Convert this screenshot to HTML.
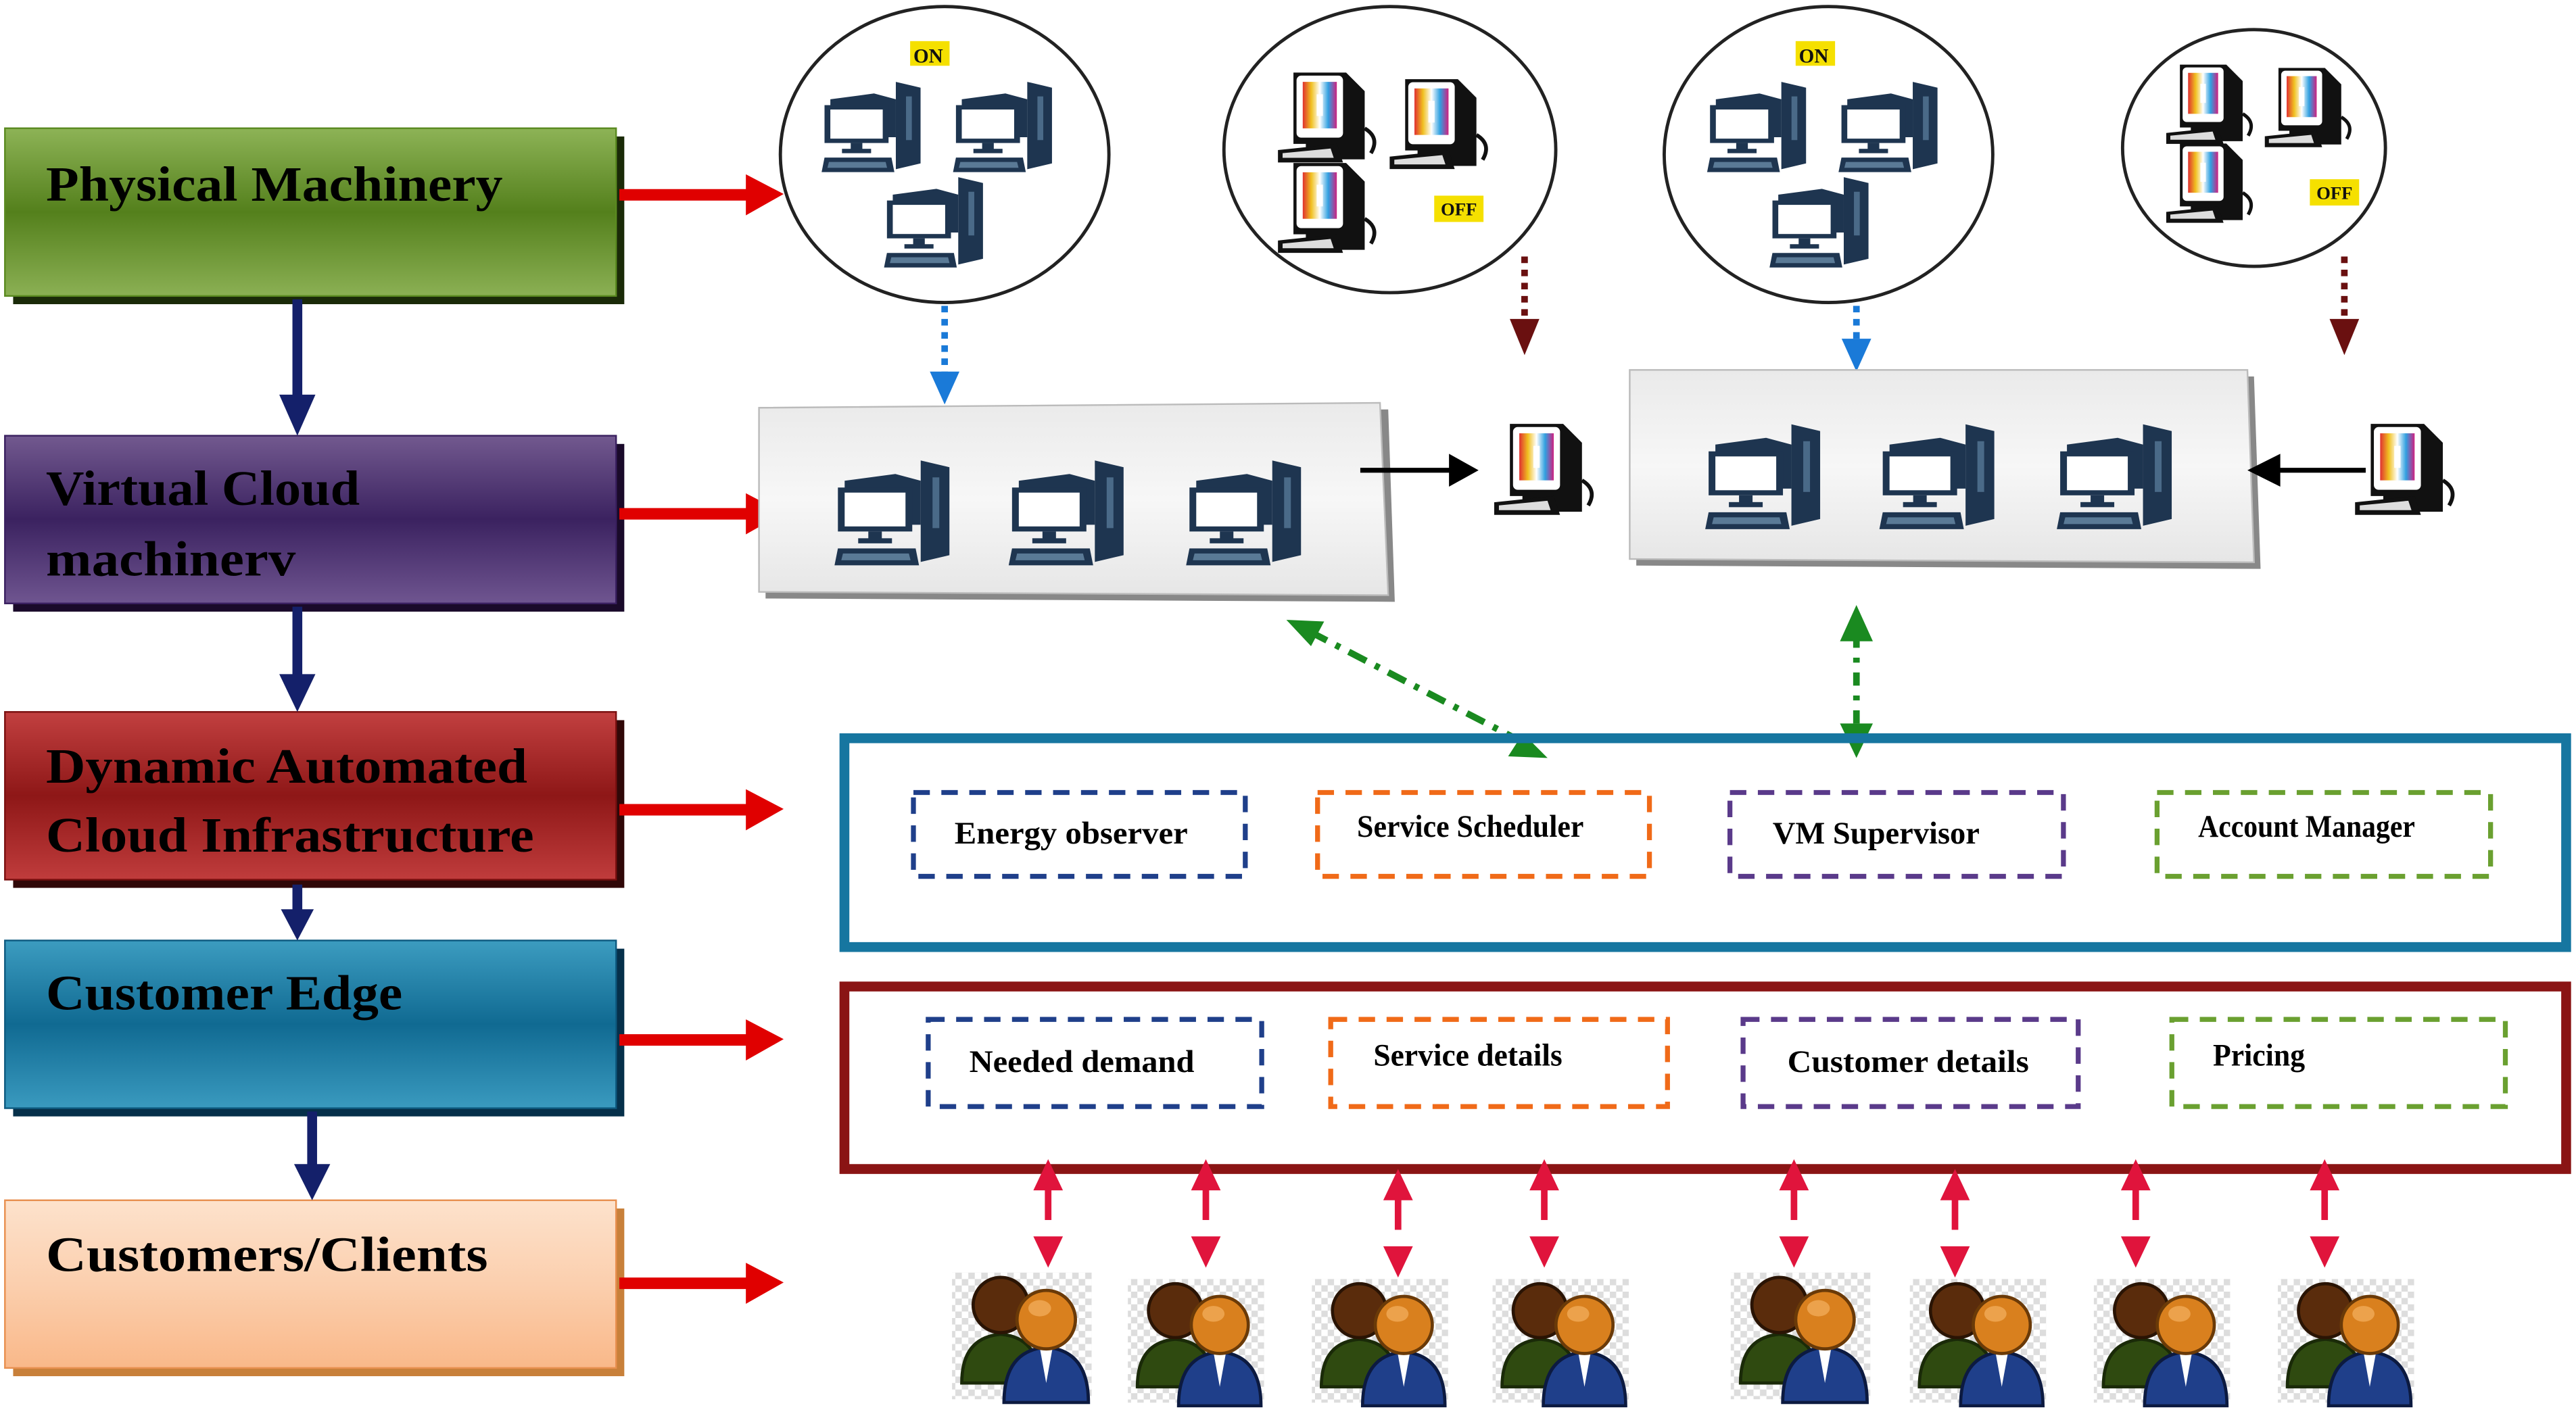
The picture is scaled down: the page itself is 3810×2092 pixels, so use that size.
<!DOCTYPE html>
<html><head><meta charset="utf-8"><style>
html,body{margin:0;padding:0;background:#fff;}
svg{display:block;}
text{font-family:"Liberation Serif",serif;font-weight:bold;}
</style></head><body>
<svg width="3810" height="2092" viewBox="0 0 1568 860" preserveAspectRatio="none" xmlns="http://www.w3.org/2000/svg">
<defs>
<linearGradient id="gG" x1="0" y1="0" x2="0" y2="1"><stop offset="0" stop-color="#8db356"/><stop offset="0.5" stop-color="#54801c"/><stop offset="1" stop-color="#8bb054"/></linearGradient>
<linearGradient id="gP" x1="0" y1="0" x2="0" y2="1"><stop offset="0" stop-color="#72598f"/><stop offset="0.5" stop-color="#3b2260"/><stop offset="1" stop-color="#6f5590"/></linearGradient>
<linearGradient id="gR" x1="0" y1="0" x2="0" y2="1"><stop offset="0" stop-color="#c24040"/><stop offset="0.5" stop-color="#8e1717"/><stop offset="1" stop-color="#c03c3c"/></linearGradient>
<linearGradient id="gB" x1="0" y1="0" x2="0" y2="1"><stop offset="0" stop-color="#3c9cc0"/><stop offset="0.5" stop-color="#106a92"/><stop offset="1" stop-color="#3a9abf"/></linearGradient>
<linearGradient id="gO" x1="0" y1="0" x2="0" y2="1"><stop offset="0" stop-color="#fde2cc"/><stop offset="0.5" stop-color="#fbcfae"/><stop offset="1" stop-color="#f9b889"/></linearGradient>
<linearGradient id="gPan" x1="0" y1="0" x2="0" y2="1"><stop offset="0" stop-color="#eaeaea"/><stop offset="0.5" stop-color="#f7f7f7"/><stop offset="1" stop-color="#e6e6e6"/></linearGradient>
<linearGradient id="scr" x1="0" y1="0" x2="1" y2="0"><stop offset="0" stop-color="#e03030"/><stop offset="0.25" stop-color="#f0c020"/><stop offset="0.5" stop-color="#ffffff"/><stop offset="0.75" stop-color="#30a0e0"/><stop offset="1" stop-color="#d02080"/></linearGradient>
<pattern id="chk" width="8" height="8" patternUnits="userSpaceOnUse"><rect width="8" height="8" fill="#fff"/><rect width="4" height="4" fill="#ddd"/><rect x="4" y="4" width="4" height="4" fill="#ddd"/></pattern>
<symbol id="pc" viewBox="0 0 80 70">
<path d="M55 2 L72 6 L72 58 L55 62 Z" fill="#1e3550"/>
<rect x="62" y="12" width="4" height="30" fill="#4a6a88"/>
<path d="M10 14 L40 10 L55 14 L55 40 L10 40 Z" fill="#1e3550"/>
<rect x="6" y="18" width="44" height="26" fill="#1e3550"/>
<rect x="10" y="21" width="36" height="20" fill="#fff"/>
<rect x="24" y="44" width="8" height="5" fill="#1e3550"/>
<rect x="18" y="48" width="20" height="3" fill="#1e3550"/>
<path d="M6 54 L52 54 L54 64 L4 64 Z" fill="#1e3550"/>
<path d="M9 57 L48 57 L49 61 L8 61 Z" fill="#5a7a96"/>
</symbol>
<symbol id="mac" viewBox="0 0 70 65">
<path d="M12 4 L46 4 L58 16 L58 60 L20 60 L20 50 L12 50 Z" fill="#111"/>
<rect x="14" y="6" width="30" height="40" rx="3" fill="#fff"/>
<rect x="18" y="10" width="22" height="30" fill="url(#scr)"/>
<rect x="27" y="18" width="4" height="14" fill="#fff"/>
<path d="M2 54 L40 50 L44 62 L2 62 Z" fill="#111"/>
<path d="M5 56 L36 53 L38 59 L5 59 Z" fill="#ddd"/>
<path d="M58 40 Q68 46 62 56" stroke="#111" stroke-width="2.5" fill="none"/>
</symbol>
<symbol id="usr" viewBox="0 0 90 85">
<rect x="2" y="4" width="86" height="78" fill="url(#chk)"/>
<path d="M8 72 Q8 44 32 42 Q56 44 56 72 Z" fill="#2f4a10" stroke="#1a2a08" stroke-width="2"/>
<circle cx="32" cy="24" r="17" fill="#5a2c0c" stroke="#2a1404" stroke-width="2"/>
<path d="M34 84 Q34 52 60 50 Q86 52 86 84 Z" fill="#1f3f8a" stroke="#0c1a40" stroke-width="2"/>
<path d="M56 50 L60 72 L64 50 Z" fill="#fff"/>
<circle cx="60" cy="33" r="18" fill="#d9801e" stroke="#6a3a08" stroke-width="2"/>
<ellipse cx="56" cy="26" rx="7" ry="5" fill="#f4b060" opacity="0.7"/>
</symbol>
<g id="pa">
<line x1="0" y1="720" x2="0" y2="750" stroke="#e0143c" stroke-width="4" stroke-dasharray="22 8"/>
<path d="M-9 724 L9 724 L0 705 Z" fill="#e0143c"/>
<path d="M-9 752 L9 752 L0 771 Z" fill="#e0143c"/>
</g>
</defs>

<!-- Left boxes -->
<g>
<rect x="8" y="83" width="372" height="102" fill="#1a2a08"/>
<rect x="3" y="78" width="372" height="102" fill="url(#gG)" stroke="#5a8a20"/>
<text x="28" y="122" font-size="30" fill="#000" textLength="278" lengthAdjust="spacingAndGlyphs">Physical Machinery</text>

<rect x="8" y="270" width="372" height="102" fill="#1a0a2a"/>
<rect x="3" y="265" width="372" height="102" fill="url(#gP)" stroke="#3a2060"/>
<text x="28" y="307" font-size="30" fill="#000" textLength="191" lengthAdjust="spacingAndGlyphs">Virtual Cloud</text>
<text x="28" y="350" font-size="30" fill="#000" textLength="152" lengthAdjust="spacingAndGlyphs">machinerv</text>

<rect x="8" y="438" width="372" height="102" fill="#300808"/>
<rect x="3" y="433" width="372" height="102" fill="url(#gR)" stroke="#7a1010"/>
<text x="28" y="476" font-size="30" fill="#000" textLength="293" lengthAdjust="spacingAndGlyphs">Dynamic Automated</text>
<text x="28" y="518" font-size="30" fill="#000" textLength="297" lengthAdjust="spacingAndGlyphs">Cloud Infrastructure</text>

<rect x="8" y="577" width="372" height="102" fill="#06304a"/>
<rect x="3" y="572" width="372" height="102" fill="url(#gB)" stroke="#0e5a80"/>
<text x="28" y="614" font-size="30" fill="#000" textLength="217" lengthAdjust="spacingAndGlyphs">Customer Edge</text>

<rect x="8" y="735" width="372" height="102" fill="#c8803a"/>
<rect x="3" y="730" width="372" height="102" fill="url(#gO)" stroke="#e89050"/>
<text x="28" y="773" font-size="30" fill="#000" textLength="269" lengthAdjust="spacingAndGlyphs">Customers/Clients</text>
</g>

<!-- navy down arrows -->
<g fill="#14206a">
<rect x="178" y="182" width="6" height="60"/><path d="M170 240 L192 240 L181 265 Z"/>
<rect x="178" y="369" width="6" height="44"/><path d="M170 410 L192 410 L181 433 Z"/>
<rect x="178" y="538" width="6" height="18"/><path d="M171 553 L191 553 L181 572 Z"/>
<rect x="187" y="676" width="6" height="34"/><path d="M179 708 L201 708 L190 730 Z"/>
</g>

<!-- red arrows -->
<g fill="#e00000">
<rect x="377" y="115" width="80" height="7"/><path d="M454 106 L477 118 L454 131 Z"/>
<rect x="377" y="309" width="80" height="7"/><path d="M454 300 L477 312 L454 325 Z"/>
<rect x="377" y="489" width="80" height="7"/><path d="M454 480 L477 492 L454 505 Z"/>
<rect x="377" y="629" width="80" height="7"/><path d="M454 620 L477 632 L454 645 Z"/>
<rect x="377" y="777" width="80" height="7"/><path d="M454 768 L477 780 L454 793 Z"/>
</g>

<!-- circles -->
<g fill="#fff" stroke="#222" stroke-width="2">
<ellipse cx="575" cy="94" rx="100" ry="90"/>
<ellipse cx="846" cy="91" rx="101" ry="87"/>
<ellipse cx="1113" cy="94" rx="100" ry="90"/>
<ellipse cx="1372" cy="90" rx="80" ry="72"/>
</g>
<rect x="554" y="25" width="24" height="15" fill="#f5e000"/><text x="556" y="38" font-size="12" fill="#111">ON</text>
<rect x="1093" y="25" width="24" height="15" fill="#f5e000"/><text x="1095" y="38" font-size="12" fill="#111">ON</text>
<rect x="873" y="119" width="30" height="16" fill="#f5e000"/><text x="877" y="131" font-size="11" fill="#111">OFF</text>
<rect x="1406" y="109" width="30" height="16" fill="#f5e000"/><text x="1410" y="121" font-size="11" fill="#111">OFF</text>

<use href="#pc" x="496" y="48" width="72" height="62"/>
<use href="#pc" x="576" y="48" width="72" height="62"/>
<use href="#pc" x="534" y="106" width="72" height="62"/>
<use href="#pc" x="1035" y="48" width="72" height="62"/>
<use href="#pc" x="1115" y="48" width="72" height="62"/>
<use href="#pc" x="1073" y="106" width="72" height="62"/>

<use href="#mac" x="776" y="40" width="66" height="62"/>
<use href="#mac" x="844" y="44" width="66" height="62"/>
<use href="#mac" x="776" y="95" width="66" height="62"/>
<use href="#mac" x="1316" y="36" width="60" height="54"/>
<use href="#mac" x="1376" y="38" width="60" height="54"/>
<use href="#mac" x="1316" y="84" width="60" height="54"/>

<!-- dotted arrows -->
<line x1="575" y1="186" x2="575" y2="228" stroke="#1a7ad8" stroke-width="4" stroke-dasharray="4 4"/>
<path d="M566 226 L584 226 L575 246 Z" fill="#1a7ad8"/>
<line x1="1130" y1="186" x2="1130" y2="208" stroke="#1a7ad8" stroke-width="4" stroke-dasharray="4 4"/>
<path d="M1121 206 L1139 206 L1130 226 Z" fill="#1a7ad8"/>
<line x1="928" y1="156" x2="928" y2="196" stroke="#6a1010" stroke-width="4" stroke-dasharray="4 4"/>
<path d="M919 194 L937 194 L928 216 Z" fill="#6a1010"/>
<line x1="1427" y1="156" x2="1427" y2="196" stroke="#6a1010" stroke-width="4" stroke-dasharray="4 4"/>
<path d="M1418 194 L1436 194 L1427 216 Z" fill="#6a1010"/>

<!-- panels -->
<path d="M466 252 L845 249 L849 366 L466 364 Z" fill="#888"/>
<path d="M462 248 L840 245 L845 362 L462 360 Z" fill="url(#gPan)" stroke="#bbb"/>
<path d="M996 229 L1372 229 L1376 346 L996 344 Z" fill="#888"/>
<path d="M992 225 L1368 225 L1372 342 L992 340 Z" fill="url(#gPan)" stroke="#bbb"/>
<use href="#pc" x="502" y="278" width="86" height="72"/>
<use href="#pc" x="608" y="278" width="86" height="72"/>
<use href="#pc" x="716" y="278" width="86" height="72"/>
<use href="#pc" x="1032" y="256" width="86" height="72"/>
<use href="#pc" x="1138" y="256" width="86" height="72"/>
<use href="#pc" x="1246" y="256" width="86" height="72"/>

<line x1="828" y1="286" x2="884" y2="286" stroke="#000" stroke-width="3"/>
<path d="M882 276 L900 286 L882 296 Z" fill="#000"/>
<use href="#mac" x="900" y="254" width="82" height="62"/>
<line x1="1440" y1="286" x2="1386" y2="286" stroke="#000" stroke-width="3"/>
<path d="M1388 276 L1368 286 L1388 296 Z" fill="#000"/>
<use href="#mac" x="1424" y="254" width="82" height="62"/>

<!-- green arrows -->
<line x1="797" y1="384" x2="928" y2="452" stroke="#1a8a20" stroke-width="4" stroke-dasharray="12 6 3 6"/>
<path d="M783 377 L806 378 L798 393 Z" fill="#1a8a20"/>
<path d="M942 461 L918 460 L927 446 Z" fill="#1a8a20"/>
<line x1="1130" y1="386" x2="1130" y2="442" stroke="#1a8a20" stroke-width="4" stroke-dasharray="8 6 3 6"/>
<path d="M1120 390 L1140 390 L1130 368 Z" fill="#1a8a20"/>
<path d="M1120 440 L1140 440 L1130 461 Z" fill="#1a8a20"/>

<!-- blue big box -->
<rect x="514" y="449" width="1048" height="127" fill="none" stroke="#1676a0" stroke-width="6"/>
<g fill="none" stroke-width="3" stroke-dasharray="10 7">
<rect x="556" y="482" width="202" height="51" stroke="#1f3f8a"/>
<rect x="802" y="482" width="202" height="51" stroke="#f06a18"/>
<rect x="1053" y="482" width="203" height="51" stroke="#5a3a8a"/>
<rect x="1313" y="482" width="203" height="51" stroke="#6aa030"/>
</g>
<g font-size="19" fill="#000">
<text x="581" y="513" textLength="142" lengthAdjust="spacingAndGlyphs">Energy observer</text>
<text x="826" y="509" textLength="138" lengthAdjust="spacingAndGlyphs">Service Scheduler</text>
<text x="1079" y="513" textLength="126" lengthAdjust="spacingAndGlyphs">VM Supervisor</text>
<text x="1338" y="509" textLength="132" lengthAdjust="spacingAndGlyphs">Account Manager</text>
</g>

<!-- red big box -->
<rect x="514" y="600" width="1048" height="111" fill="none" stroke="#8a1414" stroke-width="6"/>
<g fill="none" stroke-width="3" stroke-dasharray="10 7">
<rect x="565" y="620" width="203" height="53" stroke="#1f3f8a"/>
<rect x="810" y="620" width="205" height="53" stroke="#f06a18"/>
<rect x="1061" y="620" width="204" height="53" stroke="#5a3a8a"/>
<rect x="1322" y="620" width="203" height="53" stroke="#6aa030"/>
</g>
<g font-size="19" fill="#000">
<text x="590" y="652" textLength="137" lengthAdjust="spacingAndGlyphs">Needed demand</text>
<text x="836" y="648" textLength="115" lengthAdjust="spacingAndGlyphs">Service details</text>
<text x="1088" y="652" textLength="147" lengthAdjust="spacingAndGlyphs">Customer details</text>
<text x="1347" y="648" textLength="56" lengthAdjust="spacingAndGlyphs">Pricing</text>
</g>

<!-- pink arrows -->
<use href="#pa" x="638"/><use href="#pa" x="734"/><use href="#pa" x="851" y="6"/><use href="#pa" x="940"/>
<use href="#pa" x="1092"/><use href="#pa" x="1190" y="6"/><use href="#pa" x="1300"/><use href="#pa" x="1415"/>

<!-- users -->
<use href="#usr" x="574" y="770" width="96" height="84"/>
<use href="#usr" x="680" y="774" width="96" height="82"/>
<use href="#usr" x="792" y="774" width="96" height="82"/>
<use href="#usr" x="902" y="774" width="96" height="82"/>
<use href="#usr" x="1048" y="770" width="96" height="84"/>
<use href="#usr" x="1156" y="774" width="96" height="82"/>
<use href="#usr" x="1268" y="774" width="96" height="82"/>
<use href="#usr" x="1380" y="774" width="96" height="82"/>
</svg>
</body></html>
